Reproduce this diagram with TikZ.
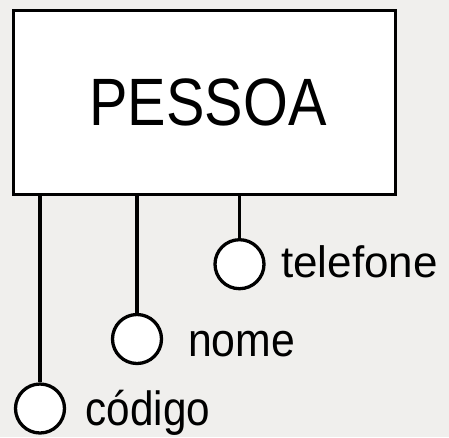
\documentclass[tikz,border=0pt]{standalone}
\usepackage{fontspec}
\setmainfont{Liberation Sans}
\definecolor{bg}{RGB}{240,239,237}
\tikzset{
  entity/.style={draw=black, fill=white, line width=3.3pt, minimum width=382pt, minimum height=184pt, inner sep=0pt},
  attr/.style={draw=black, fill=white, circle, line width=3.3pt, minimum size=49pt, inner sep=0pt},
  link/.style={line width=3.3pt},
  lbl/.style={anchor=base west, inner sep=0pt, text=black}
}
\begin{document}
\begin{tikzpicture}[x=1pt,y=-1pt]
\fill[bg] (0,0) rectangle (449,437);
\useasboundingbox (0,0) rectangle (449,437);
\node[entity] (e) at (204.5,102.5) {};
\node[anchor=base, inner sep=0pt] (t) at (208,125.7) {\fontsize{67}{70}\selectfont\scalebox{0.86}[1]{PESSOA}};
\node[attr] (c1) at (40,408.5) {};
\node[attr] (c2) at (137,339) {};
\node[attr] (c3) at (239.5,264.2) {};
\draw[link] (e.south -| c1.north) -- (c1.north);
\draw[link] (e.south -| c2.north) -- (c2.north);
\draw[link] (e.south -| c3.north) -- (c3.north);
\node[lbl] (l3) at (281,277.7) {\fontsize{44}{46}\selectfont telefone};
\node[lbl] (l2) at (188,356) {\fontsize{47}{49}\selectfont\scalebox{0.91}[1]{nome}};
\node[lbl] (l1) at (85.5,425) {\fontsize{48}{50}\selectfont\scalebox{0.88}[1]{código}};
\end{tikzpicture}
\end{document}
